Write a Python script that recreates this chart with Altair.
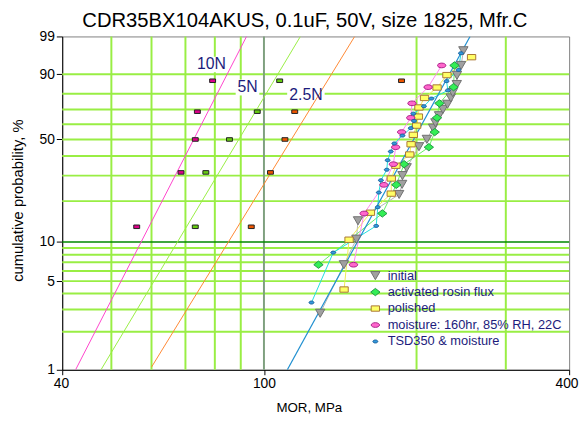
import math
import altair as alt
import pandas as pd

FONT = "Liberation Sans"
NAVY = "#1c1c7c"

# ---------------- data (MOR in MPa, cumulative probability in %) ----------------
title_text = "CDR35BX104AKUS,  0.1uF, 50V, size 1825, Mfr.C"
series_names = ["initial", "activated rosin flux", "polished",
                "moisture: 160hr, 85% RH, 22C", "TSD350 & moisture"]

initial_mor = [129.1, 143.8, 152.2, 153.3, 184.8, 187.3, 187.6, 191.2, 202.2, 209.6, 215.6,
               217.9, 221.5, 225.5, 230.2, 233.7, 235.8, 240.1, 240.3, 244.9, 247.4]
initial_F = [2.8, 6.7, 10.5, 14.4, 22.3, 26.2, 30.0, 33.8, 45.5, 50.1, 57.4,
             61.0, 65.8, 70.0, 73.4, 77.4, 80.6, 85.1, 89.5, 93.3, 97.1]

flux_mor = [128.1, 171.2, 182.4, 189.0, 211.5, 217.2, 219.5, 221.9, 236.6, 237.6]
flux_F = [6.7, 16.3, 26.0, 35.6, 45.2, 54.8, 64.4, 74.0, 83.7, 93.3]

polished_mor = [143.9, 147.2, 162.2, 178.3, 178.3, 182.1, 193.9, 195.1, 197.1, 200.1,
                201.7, 202.2, 207.4, 219.5, 229.6, 256.8]
polished_F = [4.3, 10.4, 16.5, 22.6, 28.7, 34.8, 40.9, 47.0, 53.0, 59.1,
              65.2, 71.3, 77.4, 83.5, 89.6, 95.7]

moisture_mor = [150.2, 157.6, 172.4, 180.0, 181.9, 186.9, 194.8, 195.9, 210.8, 224.2]
moisture_F = [6.7, 16.3, 26.0, 35.6, 45.2, 54.8, 64.4, 74.0, 83.7, 93.3]

tsd_mor = [124.1, 137.0, 166.5, 167.7, 168.5, 170.1, 174.7, 175.4, 177.9, 180.8,
           187.6, 194.8, 197.7, 197.1, 206.8, 214.0, 230.6, 229.2, 242.0, 244.7]
tsd_F = [3.4, 8.3, 13.2, 18.1, 23.0, 27.9, 32.8, 37.7, 42.6, 47.5,
         52.5, 57.4, 62.3, 67.2, 72.1, 77.0, 81.9, 86.8, 91.7, 96.6]

# straight fit through the data
fit_mor = [111.2, 255.0]
fit_F = [1.0, 99.0]

# reference Weibull lines and their simulated 5-point samples
ref_labels = ["10N", "5N", "2.5N"]
ref10_mor = [42.5, 92.4]
ref5_mor = [47.7, 118.0]
ref25_mor = [60.0, 151.0]
ref10_F = [1.0, 99.0]
ref5_F = [1.0, 99.0]
ref25_F = [1.05, 99.0]

sim_F = [13.0, 31.5, 50.0, 68.5, 87.0]
sim10_mor = [56.1, 68.6, 73.2, 73.9, 79.2]
sim5_mor = [73.2, 76.8, 85.5, 97.0, 107.4]
sim25_mor = [94.4, 103.0, 110.0, 115.0, 186.8]

label_mor = [78.8, 92.8, 121.0]
label_F = [93.6, 83.5, 79.0]

# axis ticks / grid
x_ticks = [40, 100, 400]
x_grid = [50, 60, 70, 80, 90, 200, 300]
x_grid_dark = [100]
y_ticks = [1, 5, 10, 50, 90, 99]
y_grid = [2, 3, 4, 5, 6, 7, 8, 9, 20, 30, 40, 50, 60, 70, 80, 90]
y_grid_dark = [10]

# ---------------- scales ----------------
WEXPR = "log(-log(1 - datum.F / 100))"
W_MIN = math.log(-math.log(1 - 0.01))
W_MAX = math.log(-math.log(1 - 0.99))
y_tick_w = [math.log(-math.log(1 - f / 100)) for f in y_ticks]


def X():
    return alt.X("MOR:Q",
                 scale=alt.Scale(type="log", domain=[40, 400], nice=False),
                 axis=alt.Axis(values=x_ticks, format="d", title="MOR, MPa", grid=False,
                               labelFont=FONT, labelFontSize=14, labelColor="black",
                               labelFlush=True, labelFlushOffset=9,
                               labelOverlap=False, labelPadding=2,
                               tickColor="black", tickSize=5, domainColor="black",
                               titleFont=FONT, titleFontSize=13.5, titleFontWeight="normal",
                               titleColor="black", titleX=250, titleY=42,
                               titleBaseline="alphabetic", titleAlign="center"))


def Y():
    return alt.Y("w:Q",
                 scale=alt.Scale(domain=[W_MIN, W_MAX], nice=False, zero=False),
                 axis=alt.Axis(values=y_tick_w,
                               labelExpr="format(100*(1-exp(-exp(datum.value))), '.0f')",
                               title="cumulative probability, %", grid=False,
                               labelFont=FONT, labelFontSize=14, labelColor="black",
                               labelPadding=2, labelOverlap=False,
                               tickColor="black", tickSize=6, domainColor="black",
                               titleFont=FONT, titleFontSize=15, titleFontWeight="normal",
                               titleColor="black", titleAngle=270, titleX=-40, titleY=166,
                               titleBaseline="alphabetic", titleAlign="center"))


def base(df):
    return alt.Chart(df).transform_calculate(w=WEXPR)


layers = []

# grid
layers.append(base(pd.DataFrame({"F": y_grid})).mark_rule(color="#99ee44", strokeWidth=2)
              .encode(y=Y()))
layers.append(base(pd.DataFrame({"MOR": x_grid})).mark_rule(color="#99ee44", strokeWidth=2)
              .encode(x=X()))
layers.append(base(pd.DataFrame({"MOR": x_grid_dark})).mark_rule(color="#7fa07f", strokeWidth=2)
              .encode(x=X()))
layers.append(base(pd.DataFrame({"F": y_grid_dark})).mark_rule(color="#008800", strokeWidth=1.5)
              .encode(y=Y()))

# white boxes behind the reference-line labels
box_paths = ["M-1,-0.48L1,-0.48L1,0.48L-1,0.48Z",
             "M-1,-0.67L1,-0.67L1,0.67L-1,0.67Z",
             "M-1,-0.42L1,-0.42L1,0.42L-1,0.42Z"]
box_sizes = [1089, 576, 1444]
for i in range(3):
    d = pd.DataFrame({"MOR": [label_mor[i]], "F": [label_F[i]]})
    layers.append(base(d).mark_point(filled=True, shape=box_paths[i], size=box_sizes[i],
                                     color="white", opacity=1, strokeWidth=0)
                  .encode(x=X(), y=Y()))

# reference lines
for mor, F, col in [(ref10_mor, ref10_F, "#ff44cc"), (ref5_mor, ref5_F, "#99ee44"),
                    (ref25_mor, ref25_F, "#ff8833")]:
    d = pd.DataFrame({"MOR": mor, "F": F})
    layers.append(base(d).mark_line(color=col, strokeWidth=1, clip=True)
                  .encode(x=X(), y=Y(), order=alt.Order("F:Q")))

# series connecting lines
series_data = [(initial_mor, initial_F), (flux_mor, flux_F), (polished_mor, polished_F),
               (moisture_mor, moisture_F), (tsd_mor, tsd_F)]
line_cols = ["#b4b4b4", "#66ee66", "#eeee55", "#ff88ee", "#22dddd"]
for (mor, F), col in zip(series_data, line_cols):
    d = pd.DataFrame({"MOR": mor, "F": F})
    layers.append(base(d).mark_line(color=col, strokeWidth=1, clip=True)
                  .encode(x=X(), y=Y(), order=alt.Order("F:Q")))

# fit line
layers.append(base(pd.DataFrame({"MOR": fit_mor, "F": fit_F}))
              .mark_line(color="#1f8fd0", strokeWidth=1.2, clip=True)
              .encode(x=X(), y=Y(), order=alt.Order("F:Q")))

# simulated sample markers
sim_path = "M-1,-0.6L1,-0.6L1,0.6L-1,0.6Z"
for mor, col in [(sim10_mor, "#dd0088"), (sim5_mor, "#66cc11"), (sim25_mor, "#ee5500")]:
    d = pd.DataFrame({"MOR": mor, "F": sim_F})
    layers.append(base(d).mark_point(filled=True, shape=sim_path, size=36, fill=col,
                                     stroke="#222222", strokeWidth=1, opacity=1)
                  .encode(x=X(), y=Y()))

# data points (with legend)
rows = []
for name, (mor, F) in zip(series_names, series_data):
    for m, f in zip(mor, F):
        rows.append({"series": name, "MOR": m, "F": f})
pts_df = pd.DataFrame(rows)

fills = ["#a0a0a0", "#33ee55", "#ffff66", "#ff66cc", "#3399dd"]
strokes = ["#707070", "#229944", "#aa7733", "#aa2288", "#1a5f99"]
shapes = ["triangle-down",
          "M-1,0L0,-0.78L1,0L0,0.78Z",
          "M-0.89,-0.57L0.89,-0.57L0.89,0.57L-0.89,0.57Z",
          "M-0.89,0A0.89,0.5 0 1,1 0.89,0A0.89,0.5 0 1,1 -0.89,0Z",
          "M-0.53,0A0.53,0.32 0 1,1 0.53,0A0.53,0.32 0 1,1 -0.53,0Z"]
leg = alt.Legend(title=None, orient="none", legendX=311, legendY=236, padding=0,
                 labelFont=FONT, labelFontSize=13, labelColor=NAVY, labelOffset=6,
                 labelLimit=400, rowPadding=2.7, symbolStrokeWidth=1, symbolSize=90)
layers.append(base(pts_df).mark_point(filled=True, opacity=1, strokeWidth=1, size=90)
              .encode(x=X(), y=Y(),
                      fill=alt.Fill("series:N", scale=alt.Scale(domain=series_names, range=fills), legend=leg),
                      stroke=alt.Stroke("series:N", scale=alt.Scale(domain=series_names, range=strokes), legend=leg),
                      shape=alt.Shape("series:N", scale=alt.Scale(domain=series_names, range=shapes), legend=leg)))

# reference-line labels
lab_df = pd.DataFrame({"MOR": label_mor, "F": label_F, "label": ref_labels})
layers.append(base(lab_df).mark_text(font=FONT, fontSize=16, color=NAVY, baseline="middle",
                                     align="center")
              .encode(x=X(), y=Y(), text="label:N"))

# chart title (as text above the plot)
layers.append(alt.Chart(pd.DataFrame({"t": [title_text]}))
              .mark_text(font=FONT, fontSize=20.5, color="black", baseline="alphabetic",
                         align="center")
              .encode(x=alt.value(246), y=alt.value(-10), text="t:N"))

chart = alt.layer(*layers).properties(
    width=514, height=338,
    autosize=alt.AutoSizeParams(type="none"),
    padding={"left": 55, "top": 26, "right": 10, "bottom": 44},
    background="white",
).configure_view(stroke="#808080", strokeWidth=1)

chart.save("out.html", embed_options={"renderer": "svg", "actions": False})
